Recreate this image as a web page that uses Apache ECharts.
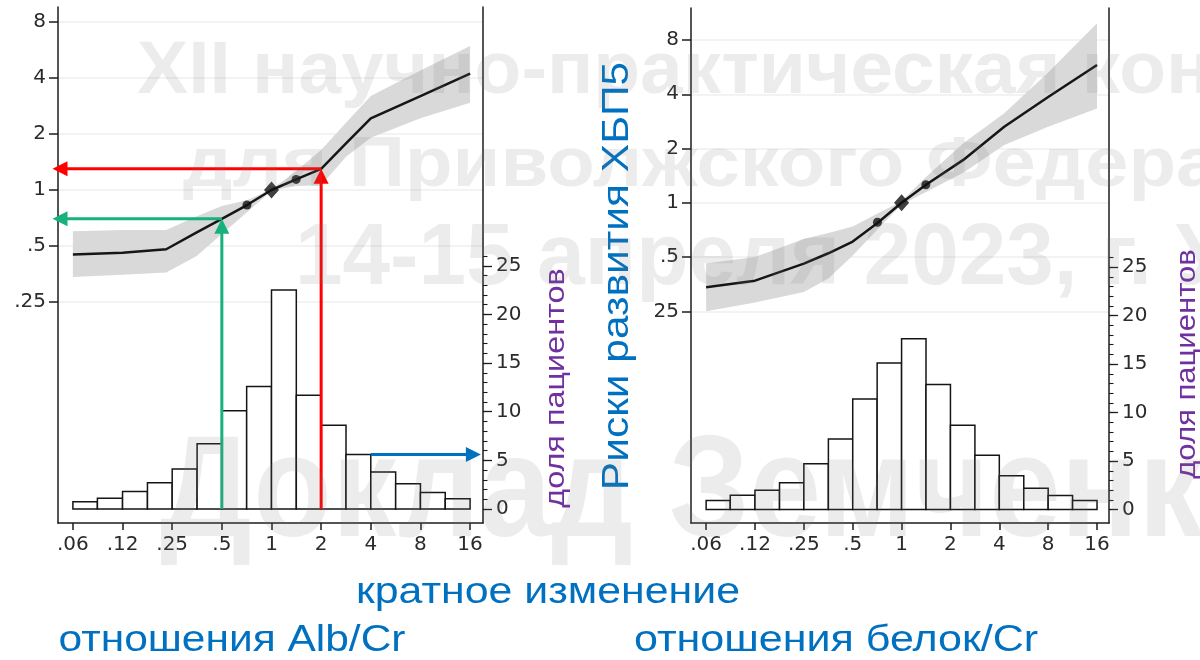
<!DOCTYPE html>
<html>
<head>
<meta charset="utf-8">
<script src="https://cdn.jsdelivr.net/npm/echarts@6/dist/echarts.min.js"></script>
<style>
  html, body { margin: 0; padding: 0; background: #ffffff; }
  #chart { width: 1200px; height: 660px; }
</style>
</head>
<body>
<div id="chart"></div>
<script>
// ---- axis ticks (positions are log2 of the fold change / risk ratio) ----
const xTickLog2 = [-4, -3, -2, -1, 0, 1, 2, 3, 4];
const xTickLabels = ['.06', '.12', '.25', '.5', '1', '2', '4', '8', '16'];
const riskTickLog2 = [-2, -1, 0, 1, 2, 3];
const riskTickLabelsAlb = ['.25', '.5', '1', '2', '4', '8'];
const riskTickLabelsProt = ['25', '.5', '1', '2', '4', '8'];
const shareTicks = [0, 5, 10, 15, 20, 25];
const shareMinorTicks = [0, 1, 2, 3, 4, 5, 6, 7, 8, 9, 10, 11, 12, 13, 14, 15, 16, 17, 18, 19, 20, 21, 22, 23, 24, 25, 26];

// ---- histogram: bin edges (fold change) and share of patients, % ----
const binEdges = [0.0625, 0.088, 0.125, 0.177, 0.25, 0.354, 0.5, 0.707, 1, 1.414, 2, 2.83, 4, 5.66, 8, 11.31, 16];
const albShare = [0.75, 1.1, 1.8, 2.7, 4.1, 6.7, 10.1, 12.6, 22.5, 11.7, 8.6, 5.6, 3.8, 2.6, 1.7, 1.05];
const protShare = [0.93, 1.48, 2.0, 2.76, 4.72, 7.28, 11.4, 15.1, 17.6, 12.9, 8.7, 5.6, 3.5, 2.2, 1.45, 0.93];

// ---- risk curve for Alb/Cr change: fold change, risk ratio, 95% band ----
const albFold  = [0.0625, 0.125, 0.23, 0.35, 0.5, 0.71, 1, 1.41, 2, 2.83, 4, 8, 16];
const albRisk  = [0.45, 0.46, 0.48, 0.59, 0.70, 0.83, 1, 1.14, 1.30, 1.78, 2.43, 3.20, 4.23];
const albUpper = [0.60, 0.61, 0.61, 0.72, 0.82, 0.88, 1.01, 1.26, 1.64, 2.30, 3.20, 4.40, 5.95];
const albLower = [0.34, 0.35, 0.36, 0.44, 0.58, 0.76, 0.99, 1.05, 1.06, 1.51, 1.91, 2.43, 2.95];

// ---- risk curve for protein/Cr change ----
const protFold  = [0.0625, 0.125, 0.25, 0.354, 0.5, 0.707, 1, 1.414, 2.4, 4.29, 8, 16];
const protRisk  = [0.34, 0.37, 0.46, 0.525, 0.61, 0.77, 1, 1.26, 1.73, 2.64, 3.86, 5.82];
const protUpper = [0.46, 0.50, 0.63, 0.68, 0.74, 0.87, 1.02, 1.39, 2.14, 3.14, 5.28, 9.92];
const protLower = [0.25, 0.28, 0.32, 0.38, 0.51, 0.71, 0.98, 1.15, 1.47, 2.09, 2.64, 3.34];

// ---- highlighted points on the curves (reference point drawn as a diamond) ----
const markerFold = [0.71, 1, 1.41];
const markerSymbols = ['circle', 'diamond', 'circle'];
const albMarkerRisk = [0.83, 1, 1.14];
const protMarkerRisk = [0.78, 1, 1.26];

// ---- guide arrows on the Alb/Cr panel ----
const redGuide   = { fold: 2,   risk: 1.30 };
const greenGuide = { fold: 0.5, risk: 0.70 };
const blueGuide  = { fold: 4,   share: 5.6 };
const guideLeftTipFold = 0.047;
const guideRightTipFold = 18.6;

const FONT = "'Liberation Sans', Arial, Helvetica, sans-serif";
const TICK_FONT = "'DejaVu Sans', 'Liberation Sans', sans-serif";
const AXIS_COLOR = '#1c1c1c';
const TICK_TEXT = '#2b2b2b';
const l2 = Math.log2;

const panels = [
  { grid: { left: 58, top: 7, width: 425, height: 516 },
    x: [-4.3, 4.26], risk: [-5.95, 3.27], share: [-1.44, 51.6],
    riskLabels: riskTickLabelsAlb, shares: albShare,
    fold: albFold, curve: albRisk, upper: albUpper, lower: albLower, markers: albMarkerRisk },
  { grid: { left: 691, top: 8, width: 418, height: 515 },
    x: [-4.31, 4.245], risk: [-5.90, 3.59], share: [-1.38, 51.7],
    riskLabels: riskTickLabelsProt, shares: protShare,
    fold: protFold, curve: protRisk, upper: protUpper, lower: protLower, markers: protMarkerRisk }
];

const grids = [], xAxes = [], yAxes = [], series = [];
const tickLabelStyle = { fontFamily: TICK_FONT, fontSize: 20, color: TICK_TEXT };

panels.forEach((p, i) => {
  grids.push(Object.assign({ containLabel: false }, p.grid));
  xAxes.push({
    gridIndex: i, type: 'value', min: p.x[0], max: p.x[1], position: 'bottom',
    axisLine: { show: true, onZero: false, lineStyle: { color: AXIS_COLOR, width: 1.5 } },
    axisTick: { show: true, length: 7, customValues: xTickLog2, lineStyle: { color: AXIS_COLOR, width: 1.5 } },
    axisLabel: Object.assign({ show: true, customValues: xTickLog2, margin: 12,
      formatter: v => xTickLabels[xTickLog2.indexOf(v)] }, tickLabelStyle),
    splitLine: { show: false }
  });
  const riskIdx = yAxes.length;
  yAxes.push({
    gridIndex: i, type: 'value', min: p.risk[0], max: p.risk[1], position: 'left',
    axisLine: { show: true, onZero: false, lineStyle: { color: AXIS_COLOR, width: 1.5 } },
    axisTick: { show: true, length: 9, customValues: riskTickLog2, lineStyle: { color: AXIS_COLOR, width: 1.5 } },
    axisLabel: Object.assign({ show: true, customValues: riskTickLog2, margin: 12,
      formatter: v => p.riskLabels[riskTickLog2.indexOf(v)] }, tickLabelStyle),
    splitLine: { show: true, lineStyle: { color: '#efefef', width: 1.5 } }
  });
  const shareIdx = yAxes.length;
  yAxes.push({
    gridIndex: i, type: 'value', min: p.share[0], max: p.share[1], position: 'right',
    axisLine: { show: true, onZero: false, lineStyle: { color: AXIS_COLOR, width: 1.5 } },
    axisTick: { show: true, length: 9, customValues: shareTicks, lineStyle: { color: AXIS_COLOR, width: 1.3 } },
    axisLabel: Object.assign({ show: true, customValues: shareTicks, margin: 13 }, tickLabelStyle),
    splitLine: { show: false }
  });
  // minor ticks of the share axis
  yAxes.push({
    gridIndex: i, type: 'value', min: p.share[0], max: p.share[1], position: 'right',
    axisLine: { show: false, onZero: false },
    axisTick: { show: true, length: 4.5, customValues: shareMinorTicks, lineStyle: { color: AXIS_COLOR, width: 1.1 } },
    axisLabel: { show: false },
    splitLine: { show: false }
  });

  // confidence band around the curve
  const upperPts = p.fold.map((f, k) => [l2(f), l2(p.upper[k])]);
  const lowerPts = p.fold.map((f, k) => [l2(f), l2(p.lower[k])]);
  series.push({
    type: 'custom', xAxisIndex: i, yAxisIndex: riskIdx, silent: true, z: 1,
    data: upperPts.map((u, k) => [u[0], u[1], lowerPts[k][1]]),
    renderItem: (params, api) => {
      if (params.dataIndex !== 0) return null;
      const pts = upperPts.map(q => api.coord(q)).concat(lowerPts.slice().reverse().map(q => api.coord(q)));
      return { type: 'polygon', shape: { points: pts }, style: { fill: '#d9d9d9', stroke: 'none' } };
    }
  });
  // fitted curve
  series.push({
    type: 'line', xAxisIndex: i, yAxisIndex: riskIdx, z: 3, silent: true,
    data: p.fold.map((f, k) => [l2(f), l2(p.curve[k])]),
    symbol: 'none', smooth: false,
    lineStyle: { color: '#161616', width: 2.5, join: 'round' }
  });
  // points on the curve
  series.push({
    type: 'scatter', xAxisIndex: i, yAxisIndex: riskIdx, z: 4, silent: true,
    data: markerFold.map((f, k) => ({
      value: [l2(f), l2(p.markers[k])],
      symbol: markerSymbols[k],
      symbolSize: markerSymbols[k] === 'diamond' ? [15, 17] : 9
    })),
    itemStyle: { color: '#101010' }
  });
  // histogram of the change distribution
  series.push({
    type: 'custom', xAxisIndex: i, yAxisIndex: shareIdx, z: 2, silent: true,
    data: p.shares.map((v, k) => [l2(binEdges[k]), l2(binEdges[k + 1]), v]),
    encode: { x: [0, 1], y: 2 },
    renderItem: (params, api) => {
      const a = api.coord([api.value(0), 0]);
      const b = api.coord([api.value(1), api.value(2)]);
      return { type: 'rect', shape: { x: a[0], y: b[1], width: b[0] - a[0], height: a[1] - b[1] },
               style: { fill: '#ffffff', stroke: '#151515', lineWidth: 1.5 } };
    }
  });
});

const chart = echarts.init(document.getElementById('chart'), null, { renderer: 'canvas' });
chart.setOption({
  animation: false,
  backgroundColor: '#ffffff',
  grid: grids, xAxis: xAxes, yAxis: yAxes, series: series
});

// ---- annotation layer: guide arrows, axis titles, background caption ----
const X = f => chart.convertToPixel({ xAxisIndex: 0 }, l2(f));
const YR = r => chart.convertToPixel({ yAxisIndex: 0 }, l2(r));
const YS = s => chart.convertToPixel({ yAxisIndex: 1 }, s);

function arrow(from, to, color) {
  const dx = to[0] - from[0], dy = to[1] - from[1];
  const len = Math.hypot(dx, dy), ux = dx / len, uy = dy / len;
  const head = 15, half = 7.5;
  const bx = to[0] - ux * head, by = to[1] - uy * head;
  return [
    { type: 'line', z: 50, silent: true,
      shape: { x1: from[0], y1: from[1], x2: bx + ux * 2, y2: by + uy * 2 },
      style: { stroke: color, lineWidth: 3 } },
    { type: 'polygon', z: 50, silent: true,
      shape: { points: [to, [bx - uy * half, by + ux * half], [bx + uy * half, by - ux * half]] },
      style: { fill: color } }
  ];
}

const RED = '#ff0000', GREEN = '#17b07f', BLUE = '#0070c0', PURPLE = '#7030a0';
const redCorner = [X(redGuide.fold), YR(redGuide.risk)];
const greenCorner = [X(greenGuide.fold), YR(greenGuide.risk)];
const graphics = [].concat(
  arrow([X(redGuide.fold), YS(0)], redCorner, RED),
  arrow(redCorner, [X(guideLeftTipFold), YR(redGuide.risk)], RED),
  arrow([X(greenGuide.fold), YS(0)], greenCorner, GREEN),
  arrow(greenCorner, [X(guideLeftTipFold), YR(greenGuide.risk)], GREEN),
  arrow([X(blueGuide.fold), YS(blueGuide.share)], [X(guideRightTipFold), YS(blueGuide.share)], BLUE)
);

function vtext(text, x, y, size, color, stretch) {
  return { type: 'text', x: x, y: y, rotation: Math.PI / 2, scaleX: stretch, z: 60, silent: true,
    style: { text: text, fontFamily: FONT, fontSize: size, fill: color, align: 'center', verticalAlign: 'middle' } };
}
function htext(text, x, y, size, color, stretch) {
  return { type: 'text', x: x, y: y, scaleX: stretch, z: 60, silent: true,
    style: { text: text, fontFamily: FONT, fontSize: size, fill: color, align: 'center', verticalAlign: 'middle' } };
}
graphics.push(
  vtext('Риски развития ХБП5', 618, 276, 36, BLUE, 1.18),
  vtext('доля пациентов', 557, 388, 27, PURPLE, 1.2),
  vtext('доля пациентов', 1188, 364, 27, PURPLE, 1.15),
  htext('кратное изменение', 548, 593, 36, BLUE, 1.19),
  htext('отношения Alb/Cr', 232, 641, 36, BLUE, 1.18),
  htext('отношения белок/Cr', 836, 641, 36, BLUE, 1.195)
);

// faint conference caption laid over the figure; each line is stretched so that
// the given leading part of it spans [x, xEnd]
const measureCtx = document.createElement('canvas').getContext('2d');
function caption(text, lead, x, xEnd, baseline, size) {
  measureCtx.font = 'bold ' + size + "px 'Liberation Sans', Arial, sans-serif";
  const sx = (xEnd - x) / measureCtx.measureText(lead).width;
  return { type: 'text', x: x, y: baseline - 0.3465 * size, scaleX: sx, z: 100, silent: true,
    style: { text: text, fontFamily: FONT, fontWeight: 'bold', fontSize: size,
             fill: 'rgba(120,120,120,0.14)', align: 'left', verticalAlign: 'middle' } };
}
graphics.push(
  caption('XII научно-практическая конференция', 'XII научно-практическая ко', 137, 1166, 98, 74),
  caption('для Приволжского Федерального округа', 'для Приволжского Федер', 183, 1176, 191, 70),
  caption('14-15 апреля 2023, г. Уфа', '14-15 апреля 2023, г.', 295, 1152, 290, 88),
  caption('Доклад Земченкова', 'Доклад', 160, 633, 546, 145)
);

chart.setOption({ graphic: graphics });
</script>
</body>
</html>
